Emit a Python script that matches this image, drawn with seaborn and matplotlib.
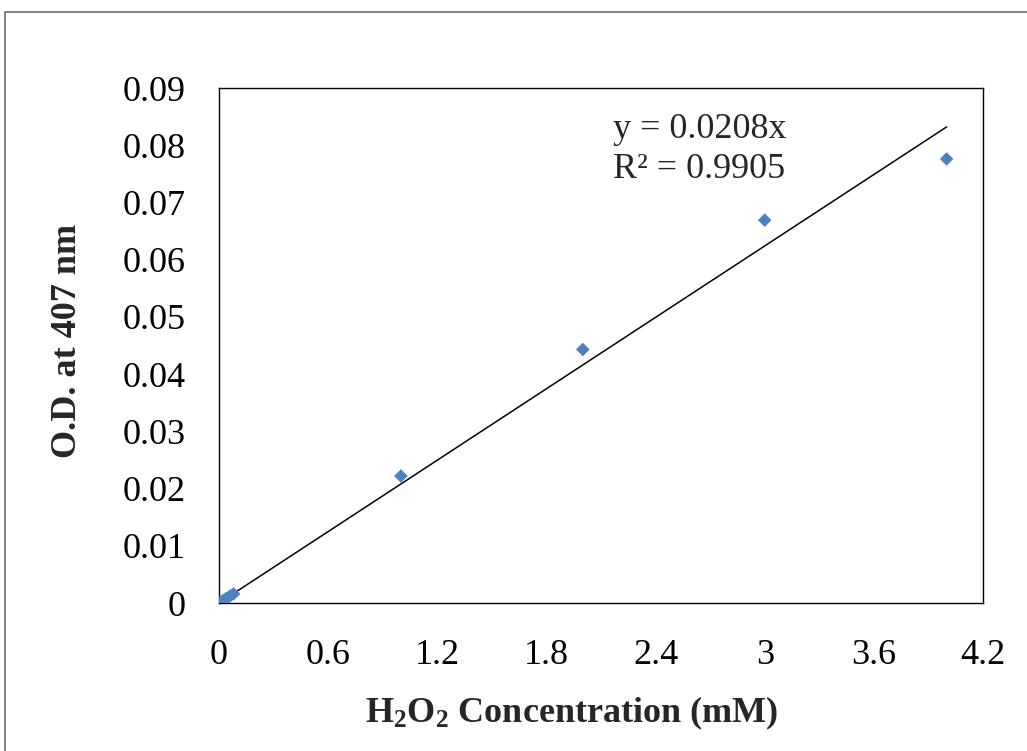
import matplotlib
matplotlib.use("Agg")
import matplotlib.pyplot as plt
from matplotlib.patches import Rectangle
import numpy as np
import pandas as pd
import seaborn as sns

# Calibration data: H2O2 concentration (mM) vs optical density at 407 nm
conc_mM = [0.0, 0.02, 0.04, 0.06, 0.08, 1.0, 2.0, 3.0, 4.0]
od_407 = [0.0, 0.0004, 0.0008, 0.0012, 0.0016, 0.0222, 0.0443, 0.0669, 0.0776]

# Linear trendline forced through the origin
slope = 0.0208
r_squared = 0.9905
trend_x = [0.0, 4.0]

x_ticks = [0, 0.6, 1.2, 1.8, 2.4, 3.0, 3.6, 4.2]
x_tick_labels = ["0", "0.6", "1.2", "1.8", "2.4", "3", "3.6", "4.2"]
y_ticks = [0, 0.01, 0.02, 0.03, 0.04, 0.05, 0.06, 0.07, 0.08, 0.09]
y_tick_labels = ["0", "0.01", "0.02", "0.03", "0.04", "0.05", "0.06", "0.07", "0.08", "0.09"]

sns.set_style("white")
plt.rcParams["font.family"] = ["Liberation Serif", "DejaVu Serif"]
plt.rcParams["mathtext.fontset"] = "custom"
plt.rcParams["mathtext.rm"] = "Liberation Serif"
plt.rcParams["mathtext.bf"] = "Liberation Serif:bold"
plt.rcParams["mathtext.it"] = "Liberation Serif:italic"

FS = 26

fig = plt.figure(figsize=(10.27, 7.51), dpi=100)
fig.patch.set_facecolor("white")

# Outer chart frame
fig.patches.append(Rectangle((5 / 1027, -0.05), 1.2, (751 - 12) / 751 + 0.05,
                             transform=fig.transFigure, fill=False,
                             edgecolor="#6e6e6e", linewidth=1.2))

ax = fig.add_axes([219 / 1027, (751 - 603) / 751, (983 - 219) / 1027, (603 - 88) / 751])

df = pd.DataFrame({"conc": conc_mM, "od": od_407})
trend = pd.DataFrame({"x": trend_x, "y": [slope * v for v in trend_x]})

sns.lineplot(data=trend, x="x", y="y", ax=ax, color="black", linewidth=1.1)
sns.scatterplot(data=df, x="conc", y="od", ax=ax, marker="D", s=48,
                color="#4f81bd", edgecolor="none", zorder=3)

ax.set_xlim(0, 4.2)
ax.set_ylim(0, 0.09)
ax.set_xticks(x_ticks)
ax.set_xticklabels(x_tick_labels)
ax.set_yticks(y_ticks)
ax.set_yticklabels(y_tick_labels)
ax.tick_params(axis="both", length=0, labelsize=FS, colors="black")
ax.tick_params(axis="x", pad=26)
ax.tick_params(axis="y", pad=24)

for sp in ax.spines.values():
    sp.set_color("black")
    sp.set_linewidth(1.0)

ax.set_xlabel(r"$\mathbf{H_2O_2}$ Concentration (mM)", fontsize=FS,
              fontweight="bold", labelpad=16)
ax.xaxis.label.set_x(0.462)
ax.set_ylabel("O.D. at 407 nm", fontsize=FS, fontweight="bold", labelpad=28)
ax.yaxis.label.set_y(0.509)

ax.text(2.166, 0.0827, f"y = {slope:.4f}x", fontsize=FS, va="center", ha="left")
ax.text(2.166, 0.0757, f"R² = {r_squared:.4f}", fontsize=FS, va="center", ha="left")

fig.savefig("out.png", dpi=100)
